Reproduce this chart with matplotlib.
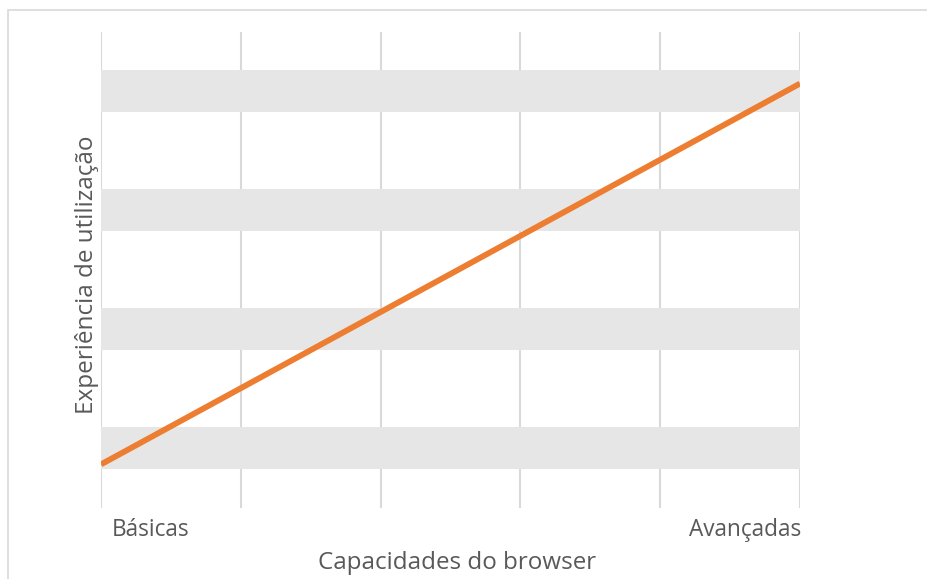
import matplotlib
matplotlib.use("Agg")
import matplotlib.pyplot as plt
from matplotlib.patches import Rectangle
import matplotlib.transforms as mtransforms

# data
x_positions = [0, 1, 2, 3, 4, 5]
line_x = [0, 5]
line_y = [1.1, 10.7]
band_starts = [0.98, 3.98, 6.98, 9.98]
band_ends = [2.04, 5.04, 8.04, 11.04]
tick_labels = ["Básicas", "Avançadas"]
x_title = "Capacidades do browser"
y_title = "Experiência de utilização"

text_col = "#595959"
grid_col = "#D9D9D9"
band_col = "#E6E6E6"
orange = "#ED7D31"

plt.rcParams['font.family'] = ['Open Sans', 'DejaVu Sans']

fig = plt.figure(figsize=(9.28, 5.79), dpi=100)
W, H = 928.0, 579.0

# chart border (only left/top visible in the crop)
fig.patches.append(Rectangle((8 / W, -0.1), 1.2, (H - 10) / H + 0.1,
                             transform=fig.transFigure, fill=False,
                             edgecolor=grid_col, linewidth=1.2))

ax = fig.add_axes([101 / W, (H - 508) / H, 699 / W, 476 / H])
ax.set_xlim(0, 5)
ax.set_ylim(0, 12)

for b0, b1 in zip(band_starts, band_ends):
    ax.axhspan(b0, b1, color=band_col, lw=0, zorder=1)
for xp in x_positions:
    ax.axvline(xp, color=grid_col, lw=1.5, zorder=0.5)

ax.plot(line_x, line_y, color=orange, lw=4.2, solid_capstyle='butt', zorder=3)

for s in ax.spines.values():
    s.set_visible(False)
ax.set_xticks([])
ax.set_yticks([])
ax.patch.set_visible(False)

ax.text(0, 0, tick_labels[0], transform=mtransforms.offset_copy(ax.transData, fig=fig, x=11, y=-22, units='dots'),
        ha='left', va='center', fontsize=16.3, color=text_col)
ax.text(5, 0, tick_labels[1], transform=mtransforms.offset_copy(ax.transData, fig=fig, x=1, y=-22, units='dots'),
        ha='right', va='center', fontsize=16.3, color=text_col)

fig.text(457 / W, 1 - 563 / H, x_title, ha='center', va='center', fontsize=17.4, color=text_col)
fig.text(87 / W, 1 - 275 / H, y_title, ha='center', va='center', rotation=90, fontsize=17.5, color=text_col)

fig.savefig("out.png", dpi=100)
